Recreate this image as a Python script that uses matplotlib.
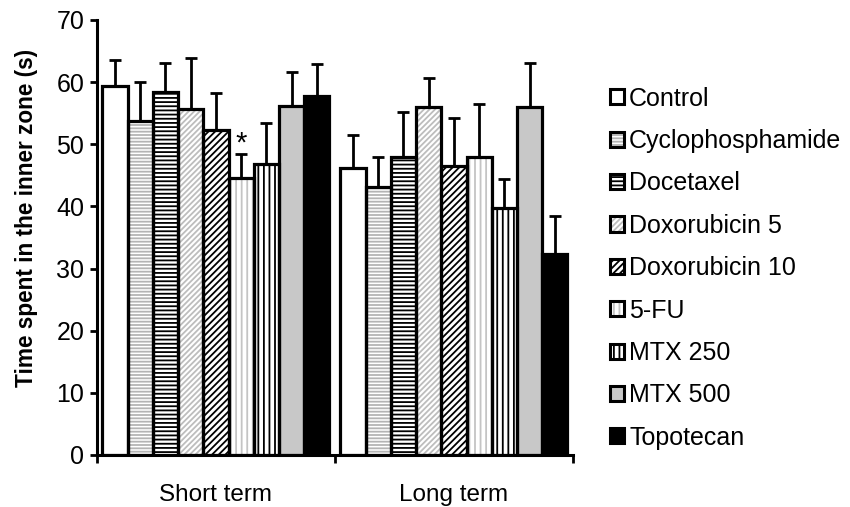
import matplotlib
matplotlib.use("Agg")
import matplotlib.pyplot as plt
import numpy as np
from matplotlib.patches import Patch
from matplotlib.legend_handler import HandlerTuple

plt.rcParams['font.family'] = ['Liberation Sans', 'DejaVu Sans']
plt.rcParams['hatch.linewidth'] = 1.3

groups = ["Short term", "Long term"]
treatments = ["Control", "Cyclophosphamide", "Docetaxel", "Doxorubicin 5",
              "Doxorubicin 10", "5-FU", "MTX 250", "MTX 500", "Topotecan"]
short_mean = [59.4, 53.7, 58.4, 55.6, 52.3, 44.5, 46.9, 56.1, 57.7]
short_err = [4.1, 6.3, 4.7, 8.3, 5.9, 3.9, 6.6, 5.5, 5.2]
long_mean = [46.1, 43.2, 47.9, 56.0, 46.5, 47.9, 39.8, 56.0, 32.4]
long_err = [5.4, 4.7, 7.3, 4.6, 7.7, 8.6, 4.6, 7.1, 6.0]
yticks = [0, 10, 20, 30, 40, 50, 60, 70]

# (facecolor, hatch, hatch colour)
styles = [
    ("white", None, "white"),
    ("white", "-----", "#b4b4b4"),
    ("white", "----", "black"),
    ("white", "//////", "#bdbdbd"),
    ("white", "/////", "black"),
    ("white", "|||", "#c4c4c4"),
    ("white", "|||", "black"),
    ("#c8c8c8", None, "#c8c8c8"),
    ("black", None, "black"),
]

fig = plt.figure(figsize=(8.5, 5.07), dpi=100)
ax = fig.add_axes([0.114, 0.1026, 0.56, 0.858])

gx = np.arange(len(groups))
w = 0.106
n = len(treatments)
handles = []
for i, name in enumerate(treatments):
    fc, hatch, hc = styles[i]
    xs = gx + (i - (n - 1) / 2) * w
    vals = [short_mean[i], long_mean[i]]
    errs = [short_err[i], long_err[i]]
    ax.bar(xs, vals, width=w, color=fc, edgecolor=hc, hatch=hatch, linewidth=0, zorder=2)
    ax.bar(xs, vals, width=w, fill=False, edgecolor="black", linewidth=2.3, zorder=3)
    ax.errorbar(xs, vals, yerr=[[0, 0], errs], fmt="none", ecolor="black",
                elinewidth=2.0, capsize=4.3, capthick=2.0, zorder=1)
    h1 = Patch(facecolor=fc, edgecolor=hc, hatch=hatch, linewidth=0)
    h2 = Patch(fill=False, edgecolor="black", linewidth=2.2)
    handles.append((h1, h2))

# significance marker above 5-FU short term
xs5 = gx[0] + (5 - (n - 1) / 2) * w
ax.text(xs5, 48.9, "*", ha="center", va="baseline", fontsize=21)

ax.set_xlim(-0.5, 1.5)
ax.set_ylim(0, 70)
ax.set_yticks(yticks)
ax.tick_params(axis="y", labelsize=18, direction="out", length=5, width=2, pad=4)
ax.set_xticks(gx)
ax.set_xticklabels(groups, fontsize=17.5)
ax.tick_params(axis="x", length=0, pad=21)
ax.set_xticks([-0.5, 0.5, 1.5], minor=True)
ax.tick_params(axis="x", which="minor", length=6, width=2, direction="out")
for s in ["top", "right"]:
    ax.spines[s].set_visible(False)
for s in ["left", "bottom"]:
    ax.spines[s].set_linewidth(2.2)
ax.set_ylabel("Time spent in the inner zone (s)", fontsize=16.3, fontweight="bold")
ax.yaxis.set_label_coords(-0.123, 0.545)

leg = fig.legend(handles, treatments, handler_map={tuple: HandlerTuple(ndivide=1)},
                 loc="upper left", bbox_to_anchor=(0.718, 0.829), frameon=False,
                 fontsize=18, handlelength=0.55, handleheight=0.55, handletextpad=0.2,
                 labelspacing=0.735, borderaxespad=0, borderpad=0)

fig.savefig("out.png", dpi=100)
